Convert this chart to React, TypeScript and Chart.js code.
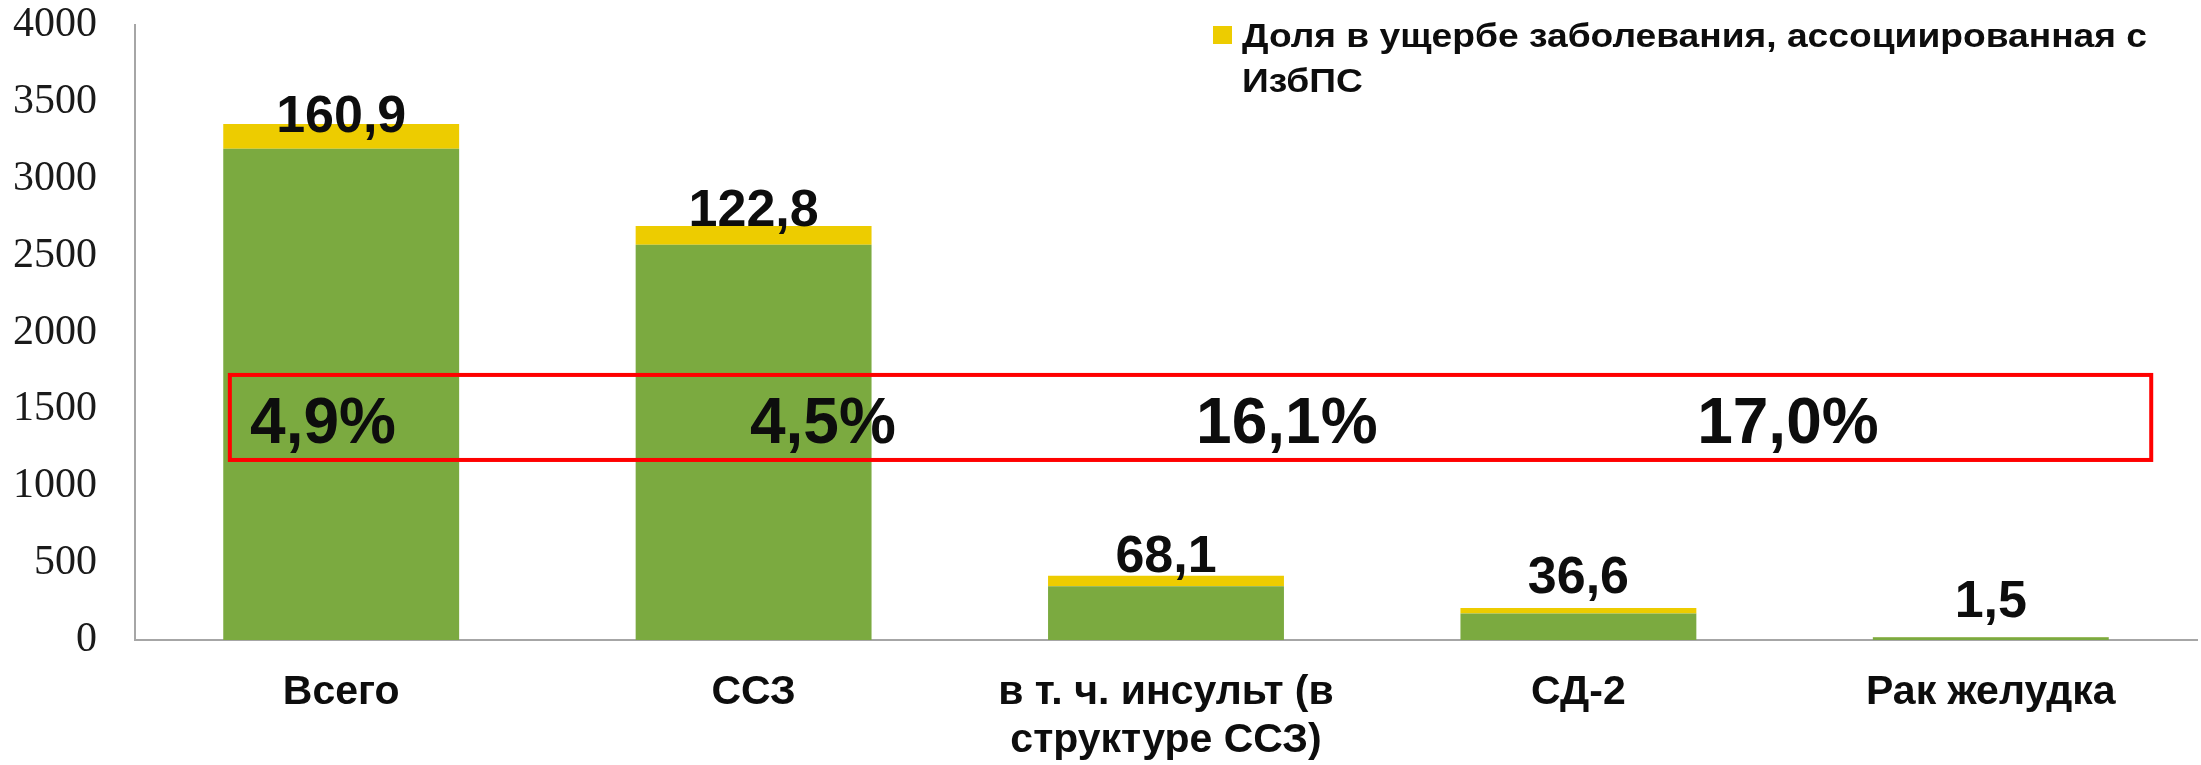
import React, { useEffect, useRef } from "react";
import { Chart, registerables } from "chart.js";

Chart.register(...registerables);

// ---- data ----
const categories: string[][] = [
  ["Всего"],
  ["ССЗ"],
  ["в т. ч. инсульт (в", "структуре ССЗ)"],
  ["СД-2"],
  ["Рак желудка"],
];
const baseValues = [3195, 2570, 350, 172, 18];
const shareValues = [160.9, 122.8, 68.1, 36.6, 1.5];
const shareLabels = ["160,9", "122,8", "68,1", "36,6", "1,5"];
const percentLabels = ["4,9%", "4,5%", "16,1%", "17,0%"];
const legendLines = ["Доля в ущербе заболевания, ассоциированная с", "ИзбПС"];
const shareSeriesName = "Доля в ущербе заболевания, ассоциированная с ИзбПС";
const baseSeriesName = "Ущерб заболевания";
const yMin = 0;
const yMax = 4000;
const yStep = 500;

// ---- annotation placement (category units / value units) ----
const percentLabelX = [-0.044, 1.168, 2.293, 3.508];
const percentLabelValue = 1398;
const boxX = [-0.27, 4.389];
const boxY = [1171, 1724];
const valueLabelLift = [-8, 0, 4, 15, 20];

const GREEN = "#7BAA40";
const YELLOW = "#EDCC00";
const SANS = "'Liberation Sans', Arial, sans-serif";
const SERIF = "'Liberation Serif', 'Times New Roman', serif";

const overlayPlugin = {
  id: "overlay",
  afterDatasetsDraw(chart: any) {
    const ctx = chart.ctx;
    const xs = chart.scales.x;
    const ys = chart.scales.y;
    ctx.save();
    // value labels
    ctx.fillStyle = "#0d0d0d";
    ctx.font = `bold 52px ${SANS}`;
    ctx.textAlign = "center";
    ctx.textBaseline = "alphabetic";
    shareLabels.forEach((t, i) => {
      const top = ys.getPixelForValue(baseValues[i] + shareValues[i]);
      ctx.fillText(t, xs.getPixelForValue(i), top - valueLabelLift[i]);
    });
    // percent labels
    ctx.font = `bold 64px ${SANS}`;
    ctx.textBaseline = "middle";
    percentLabels.forEach((t, i) => {
      ctx.fillText(t, xs.getPixelForValue(percentLabelX[i]), ys.getPixelForValue(percentLabelValue));
    });
    // red box
    const x1 = xs.getPixelForValue(boxX[0]);
    const x2 = xs.getPixelForValue(boxX[1]);
    const y1 = ys.getPixelForValue(boxY[1]);
    const y2 = ys.getPixelForValue(boxY[0]);
    ctx.strokeStyle = "#FF0000";
    ctx.lineWidth = 4;
    ctx.strokeRect(x1, y1, x2 - x1, y2 - y1);
    // legend
    ctx.fillStyle = YELLOW;
    ctx.fillRect(1213, 26, 19, 18);
    ctx.fillStyle = "#0d0d0d";
    ctx.font = `bold 33px ${SANS}`;
    ctx.textAlign = "left";
    ctx.textBaseline = "alphabetic";
    const sx = 905 / ctx.measureText(legendLines[0]).width;
    legendLines.forEach((l, i) => {
      ctx.save();
      ctx.translate(1242, 47 + i * 45);
      ctx.scale(sx, 1);
      ctx.fillText(l, 0, 0);
      ctx.restore();
    });
    ctx.restore();
  },
};

export default function App() {
  const ref = useRef<HTMLCanvasElement>(null);
  useEffect(() => {
    if (!ref.current) return;
    const chart = new Chart(ref.current, {
      type: "bar",
      data: {
        labels: categories,
        datasets: [
          {
            label: baseSeriesName,
            data: baseValues,
            backgroundColor: GREEN,
            borderWidth: 0,
            barPercentage: 0.572,
            categoryPercentage: 1,
          },
          {
            label: shareSeriesName,
            data: shareValues,
            backgroundColor: YELLOW,
            borderWidth: 0,
            barPercentage: 0.572,
            categoryPercentage: 1,
          },
        ],
      },
      options: {
        responsive: false,
        animation: false,
        devicePixelRatio: 1,
        layout: { autoPadding: false, padding: { top: 25, right: 4, left: 0, bottom: 0 } },
        plugins: {
          legend: { display: false },
          tooltip: { enabled: false },
        },
        scales: {
          x: {
            stacked: true,
            grid: { display: false, drawTicks: false },
            border: { display: true, color: "#A6A6A6", width: 2 },
            ticks: {
              color: "#0d0d0d",
              padding: 29,
              maxRotation: 0,
              autoSkip: false,
              font: { family: SANS, size: 41, weight: "bold", lineHeight: 1.17 },
            },
            afterFit(scale: any) {
              scale.height = 125;
              scale.paddingLeft = 0;
              scale.paddingRight = 0;
            },
          },
          y: {
            stacked: true,
            min: yMin,
            max: yMax,
            grid: { display: false, drawTicks: false },
            border: { display: true, color: "#A6A6A6", width: 2 },
            ticks: {
              stepSize: yStep,
              color: "#1a1a1a",
              padding: 38,
              font: { family: SERIF, size: 42 },
              callback: (v: any) => String(v),
            },
            afterFit(scale: any) {
              scale.width = 135;
              scale.paddingTop = 0;
              scale.paddingBottom = 0;
            },
          },
        },
      },
      plugins: [overlayPlugin],
    });
    return () => chart.destroy();
  }, []);
  return (
    <div style={{ position: "fixed", left: 0, top: 0, width: 2201, height: 765, background: "#fff" }}>
      <canvas ref={ref} width={2201} height={765} style={{ display: "block" }} />
    </div>
  );
}
